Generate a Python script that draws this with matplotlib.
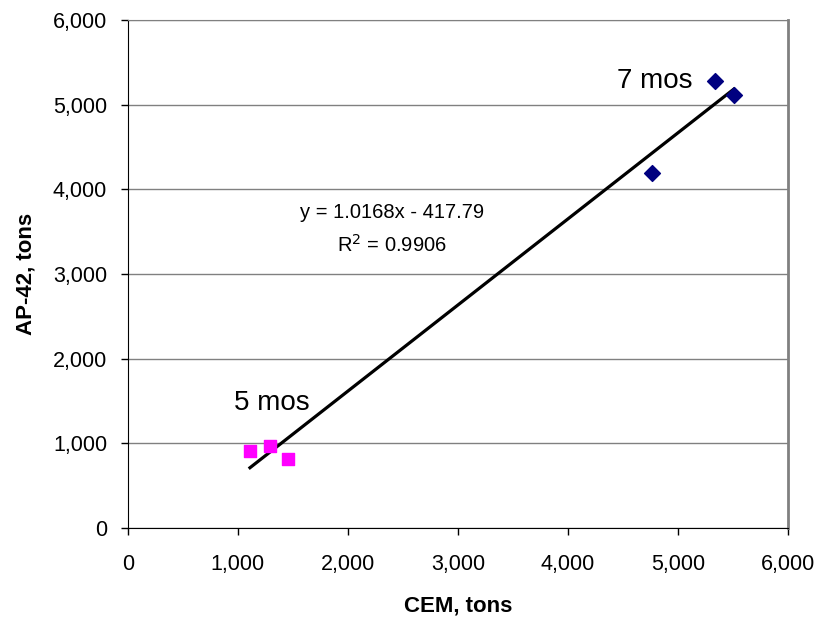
import matplotlib.pyplot as plt
import numpy as np

plt.rcParams['font.family'] = ['Liberation Sans', 'DejaVu Sans']

# 5 month data (magenta squares)
cem_5 = [1110, 1290, 1455]
ap42_5 = [913, 968, 811]

# 7 month data (navy diamonds)
cem_7 = [4766, 5336, 5509]
ap42_7 = [4189, 5278, 5113]

# trend line coefficients as printed on the chart
pendiente = 1.0168
intercepto = -417.79
r2 = 0.9906

ticks = np.arange(0, 6001, 1000)


def main():
    fig = plt.figure(figsize=(8.25, 6.24), dpi=100)
    ax = fig.add_axes([0.155, 0.154, 0.800, 0.814])

    # lineas de la cuadricula
    ax.grid(axis='y', color='#808080', linewidth=1.0)
    ax.set_axisbelow(True)

    todos_x = cem_5 + cem_7
    xl = np.array([min(todos_x), max(todos_x)])
    ax.plot(xl, pendiente * xl + intercepto, color='black', linewidth=2.3, zorder=2)

    ax.scatter(cem_5, ap42_5, marker='s', s=85, color='#FF00FF', zorder=3)
    ax.scatter(cem_7, ap42_7, marker='D', s=65, color='#000080', zorder=3)

    ax.text(4790, 5278, '7 mos', fontsize=20, ha='center', va='center')
    ax.text(1310, 1476, '5 mos', fontsize=20, ha='center', va='center')
    ax.text(2400, 3720, 'y = 1.0168x - 417.79', fontsize=14.5, ha='center', va='center')
    ax.text(2400, 3340, 'R$^2$ = %.4f' % r2, fontsize=14.5, ha='center', va='center')

    ax.set_xlim(0, 6000)
    ax.set_ylim(0, 6000)
    ax.set_xticks(ticks)
    ax.set_yticks(ticks)
    ax.set_xticklabels(['{:,}'.format(t) for t in ticks], fontsize=15.5)
    ax.set_yticklabels(['{:,}'.format(t) for t in ticks], fontsize=15.5)
    ax.tick_params(direction='out', length=5, width=1)
    ax.tick_params(axis='x', pad=14)
    ax.tick_params(axis='y', pad=10)

    ax.spines['top'].set_color('#808080')
    ax.spines['right'].set_color('#808080')
    ax.spines['right'].set_linewidth(2)

    ax.set_xlabel('CEM, tons', fontsize=16, fontweight='bold')
    ax.set_ylabel('AP-42, tons', fontsize=16, fontweight='bold')
    ax.xaxis.set_label_coords(0.5, -0.134)
    ax.yaxis.set_label_coords(-0.138, 0.5)

    fig.savefig('out.png', dpi=100)


main()
